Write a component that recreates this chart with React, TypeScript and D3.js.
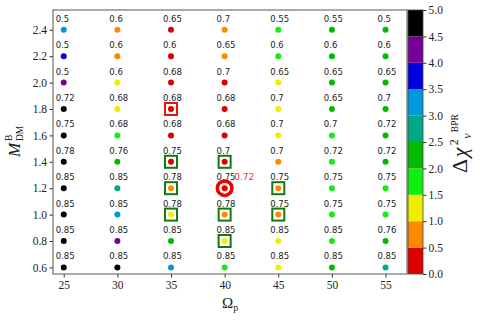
import React, { useEffect, useRef } from "react";
import * as d3 from "d3";

// grid of the scan
const omegas = [25, 30, 35, 40, 45, 50, 55];
const masses = [2.4, 2.2, 2.0, 1.8, 1.6, 1.4, 1.2, 1.0, 0.8, 0.6];

// number printed above each point (rows follow masses, columns follow omegas)
const labelRows = [
  [0.5, 0.6, 0.65, 0.7, 0.55, 0.55, 0.5],
  [0.5, 0.6, 0.6, 0.65, 0.6, 0.6, 0.6],
  [0.5, 0.6, 0.68, 0.7, 0.65, 0.65, 0.65],
  [0.72, 0.68, 0.68, 0.68, 0.7, 0.65, 0.7],
  [0.75, 0.68, 0.68, 0.68, 0.7, 0.7, 0.72],
  [0.78, 0.76, 0.75, 0.7, 0.7, 0.72, 0.72],
  [0.85, 0.85, 0.78, 0.75, 0.75, 0.75, 0.75],
  [0.85, 0.85, 0.78, 0.78, 0.75, 0.75, 0.75],
  [0.85, 0.85, 0.85, 0.85, 0.85, 0.85, 0.76],
  [0.85, 0.85, 0.85, 0.85, 0.85, 0.85, 0.85],
];

// delta chi^2 of each point
const chiRows = [
  [3.25, 0.75, 0.25, 0.75, 1.75, 2.25, 2.25],
  [3.75, 0.75, 0.25, 0.75, 1.75, 2.25, 2.25],
  [4.25, 1.25, 0.25, 0.25, 1.25, 2.25, 2.25],
  [4.75, 1.25, 0.25, 0.25, 1.25, 2.25, 2.25],
  [4.75, 1.75, 0.25, 0.25, 1.25, 1.75, 2.25],
  [4.75, 2.25, 0.25, 0.25, 0.75, 1.75, 2.25],
  [4.75, 2.75, 0.75, 0.25, 0.75, 1.75, 1.75],
  [4.75, 3.25, 1.25, 0.75, 0.75, 1.75, 1.75],
  [4.75, 4.25, 2.25, 1.25, 1.25, 1.75, 2.25],
  [4.75, 4.75, 3.25, 1.75, 1.25, 2.25, 2.75],
];

// highlighted points
const greenBoxes = [
  [35, 1.4], [40, 1.4], [35, 1.2], [45, 1.2],
  [35, 1.0], [40, 1.0], [45, 1.0], [40, 0.8],
];
const redBoxes = [[35, 1.8]];
const bestFit = { omega: 40, mass: 1.2, label: 0.72 };

const xTicks = [25, 30, 35, 40, 45, 50, 55];
const yTicks = [0.6, 0.8, 1.0, 1.2, 1.4, 1.6, 1.8, 2.0, 2.2, 2.4];
const cbTicks = [0, 0.5, 1, 1.5, 2, 2.5, 3, 3.5, 4, 4.5, 5];
const binColors = [
  "#dd0000", "#ff8800", "#eeee00", "#11ee11", "#00bb00",
  "#00a888", "#0099dd", "#0000dd", "#770099", "#000000",
];

const SERIF = "'Liberation Serif', 'Times New Roman', serif";
const SANS = "'DejaVu Sans', sans-serif";

export default function App() {
  const svgRef = useRef<SVGSVGElement>(null);

  useEffect(() => {
    const svg = d3.select(svgRef.current);
    svg.selectAll("*").remove();

    const x = d3.scaleLinear().domain([24, 57]).range([53, 407]);
    const y = d3.scaleLinear().domain([0.55, 2.55]).range([274, 10]);
    const cbY = d3.scaleLinear().domain([0, 5]).range([274, 10]);
    const color = d3.scaleQuantize<string>().domain([0, 5]).range(binColors);

    const points = masses.flatMap((m, i) =>
      omegas.map((o, j) => ({
        omega: o,
        mass: m,
        label: labelRows[i][j],
        chi: chiRows[i][j],
      }))
    );

    // axes
    const xAxis = svg
      .append("g")
      .attr("transform", "translate(0,274)")
      .call(d3.axisBottom(x).tickValues(xTicks).tickSize(3.5).tickPadding(3).tickFormat(d3.format("d")));
    const yAxis = svg
      .append("g")
      .attr("transform", "translate(53,0)")
      .call(d3.axisLeft(y).tickValues(yTicks).tickSize(3.5).tickPadding(2.5).tickFormat(d3.format(".1f")));
    [xAxis, yAxis].forEach((g) => {
      g.select(".domain").remove();
      g.selectAll("line").attr("stroke", "#333");
      g.selectAll("text").attr("font-family", SERIF).attr("font-size", 11.5).attr("fill", "#222");
    });

    // frame
    svg
      .append("rect")
      .attr("x", 53)
      .attr("y", 10)
      .attr("width", 354)
      .attr("height", 264)
      .attr("fill", "none")
      .attr("stroke", "#555")
      .attr("stroke-width", 1);

    // markers behind the dots
    svg
      .append("g")
      .selectAll("rect")
      .data(greenBoxes)
      .join("rect")
      .attr("x", (d) => x(d[0]) - 6)
      .attr("y", (d) => y(d[1]) - 6)
      .attr("width", 12)
      .attr("height", 12)
      .attr("fill", "white")
      .attr("stroke", "#137a13")
      .attr("stroke-width", 2);
    svg
      .append("g")
      .selectAll("rect")
      .data(redBoxes)
      .join("rect")
      .attr("x", (d) => x(d[0]) - 6)
      .attr("y", (d) => y(d[1]) - 6)
      .attr("width", 12)
      .attr("height", 12)
      .attr("fill", "white")
      .attr("stroke", "#ee1111")
      .attr("stroke-width", 2);
    svg
      .append("circle")
      .attr("cx", x(bestFit.omega))
      .attr("cy", y(bestFit.mass))
      .attr("r", 7.3)
      .attr("fill", "white")
      .attr("stroke", "#ee0000")
      .attr("stroke-width", 3.5);

    // dots
    svg
      .append("g")
      .selectAll("circle")
      .data(points)
      .join("circle")
      .attr("cx", (d) => x(d.omega))
      .attr("cy", (d) => y(d.mass))
      .attr("r", 3)
      .attr("fill", (d) => color(d.chi));

    // labels
    svg
      .append("g")
      .selectAll("text")
      .data(points)
      .join("text")
      .attr("x", (d) => x(d.omega - 0.75))
      .attr("y", (d) => y(d.mass + 0.06))
      .attr("font-family", SANS)
      .attr("font-size", 8.5)
      .attr("fill", "#222")
      .text((d) => String(d.label));

    svg
      .append("text")
      .attr("x", x(bestFit.omega + 0.9))
      .attr("y", y(bestFit.mass + 0.06))
      .attr("font-family", SANS)
      .attr("font-size", 9)
      .attr("fill", "#ff3333")
      .text(String(bestFit.label));

    // colorbar
    const cb = svg.append("g");
    cb.selectAll("rect")
      .data(binColors)
      .join("rect")
      .attr("x", 408)
      .attr("y", (_, i) => cbY((i + 1) * 0.5))
      .attr("width", 15)
      .attr("height", (_, i) => cbY(i * 0.5) - cbY((i + 1) * 0.5))
      .attr("fill", (d) => d);
    cb.append("rect")
      .attr("x", 408)
      .attr("y", 10)
      .attr("width", 15)
      .attr("height", 264)
      .attr("fill", "none")
      .attr("stroke", "#444")
      .attr("stroke-width", 0.8);
    const cbAxis = svg
      .append("g")
      .attr("transform", "translate(423,0)")
      .call(d3.axisRight(cbY).tickValues(cbTicks).tickSize(3.5).tickPadding(2).tickFormat(d3.format(".1f")));
    cbAxis.select(".domain").remove();
    cbAxis.selectAll("line").attr("stroke", "#333");
    cbAxis.selectAll("text").attr("font-family", SERIF).attr("font-size", 11.5).attr("fill", "#222");

    // x title: Omega_p
    const xt = svg.append("text").attr("font-family", SERIF).attr("fill", "#222");
    xt.append("tspan").attr("x", 222).attr("y", 308).attr("font-size", 15).text("Ω");
    xt.append("tspan").attr("dy", 3).attr("font-size", 10).text("p");

    // y title: M^B_DM
    const yt = svg
      .append("g")
      .attr("transform", "translate(20,0) rotate(-90)")
      .attr("font-family", SERIF)
      .attr("fill", "#222");
    yt.append("text").attr("x", -157).attr("y", 0).attr("font-size", 17).attr("font-style", "italic").text("M");
    yt.append("text").attr("x", -141).attr("y", -8).attr("font-size", 9.5).text("B");
    yt.append("text").attr("x", -141).attr("y", 2.5).attr("font-size", 9.5).text("DM");

    // colorbar title: Delta chi^2_v^BPR
    const ct = svg
      .append("g")
      .attr("transform", "translate(467,0) rotate(-90)")
      .attr("font-family", SERIF)
      .attr("fill", "#222");
    const start = -173;
    const main = ct.append("text").attr("x", start).attr("y", 0).attr("font-size", 22).attr("letter-spacing", 1.5);
    main.append("tspan").text("Δ");
    main.append("tspan").attr("font-style", "italic").text("χ");
    const mainLen = (main.node() as SVGTextElement).getComputedTextLength();
    const supX = start + mainLen + 1;
    ct.append("text").attr("x", supX).attr("y", -9).attr("font-size", 12).text("2");
    ct.append("text").attr("x", supX + 6.5).attr("y", 3.5).attr("font-size", 12).attr("font-style", "italic").text("v");
    ct.append("text").attr("x", supX + 13).attr("y", -9).attr("font-size", 9.5).text("BPR");
  }, []);

  return (
    <svg
      ref={svgRef}
      width={480}
      height={320}
      style={{ position: "absolute", left: 0, top: 0, background: "white" }}
    />
  );
}
